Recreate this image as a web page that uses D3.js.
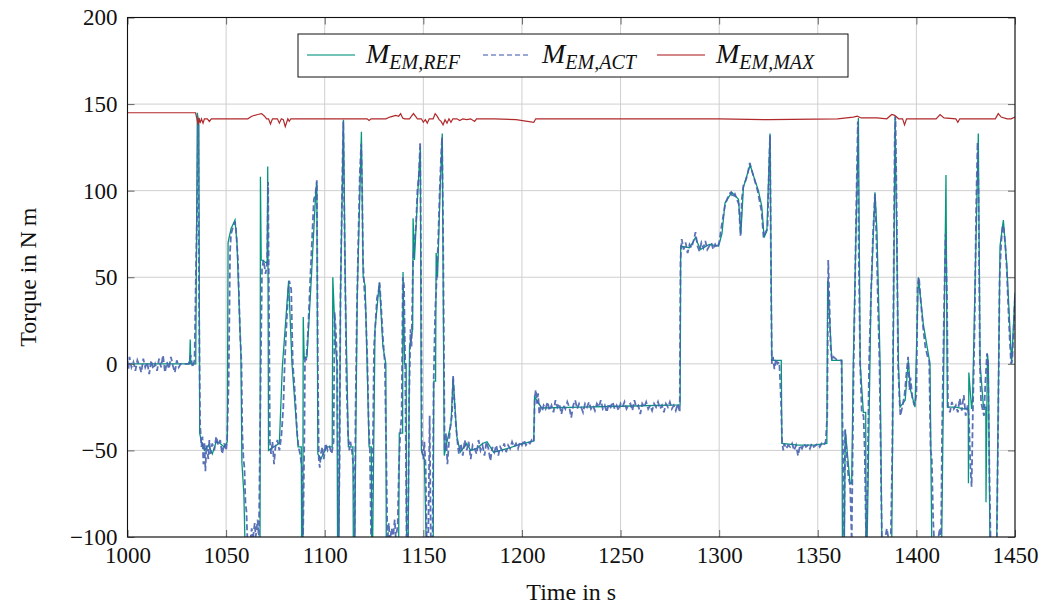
<!DOCTYPE html>
<html>
<head>
<meta charset="utf-8">
<script src="https://cdn.jsdelivr.net/npm/d3@7"></script>
<style>
  body { margin: 0; background: #fff; }
  svg { font-family: "Liberation Serif", "DejaVu Serif", serif; }
</style>
</head>
<body>
<div id="chart"></div>
<script>
// data, [time s, torque N m]
const refData = [
  [1000,0],[1031.5,0],[1031.8,14],[1032.1,0],[1034.6,0],[1035.4,145],[1036.2,138],[1036.6,-40],
  [1037.5,-45],[1039,-50],[1041,-47],[1043,-52],[1045,-45],[1047,-46],[1049,-48],[1050.6,-45],
  [1051,70],[1052.5,78],[1054.5,83],[1055.5,70],[1057.5,5],[1058,-57],[1059,-75],[1059.6,-105],
  [1067.2,-105],[1067.4,108],[1067.8,60],[1070.8,58],[1071.1,114],[1071.5,-50],[1074,-48],[1077,-46],
  [1078.5,-2],[1081.7,48],[1083.4,0],[1086.5,-48],[1088.1,-48],[1088.3,-105],[1088.9,-105],[1089.1,27],
  [1089.6,3],[1091,4],[1093,45],[1095.5,100],[1096,105],[1096.5,-52],[1098,-55],[1101,-48],
  [1103.8,-48],[1104.1,50],[1105.5,10],[1106.2,0],[1106.5,-105],[1107.2,-105],[1108,40],[1109.5,141],
  [1110.5,40],[1111.2,0],[1112,-48],[1114.3,-48],[1114.5,-105],[1115.2,-105],[1116.5,40],[1118.6,134],
  [1119.5,50],[1120.5,45],[1121.5,0],[1122.5,-48],[1123.6,-48],[1123.8,-105],[1124.3,-105],[1125.5,20],
  [1127.7,47],[1129.5,10],[1131,0],[1131.2,-105],[1137.5,-105],[1137.8,-40],[1139.5,-40],[1139.7,53],
  [1140.5,0],[1141.3,0],[1141.5,-105],[1142.3,-105],[1143,10],[1144.6,20],[1144.8,84],[1145.5,60],
  [1147,95],[1148.5,125],[1149,-50],[1150.5,-55],[1151.5,-105],[1155,-105],[1155.3,-10],[1156.2,-10],
  [1156.5,64],[1157.2,50],[1158.5,100],[1159.6,133],[1160.6,-53],[1162,-45],[1164,-35],[1165.1,-8],
  [1167,-42],[1168.7,-51],[1172,-46],[1174,-50],[1177,-49],[1180,-46],[1182.3,-45],[1185.6,-51],
  [1192.4,-49],[1199,-46.5],[1206,-44.5],[1206.4,-19],[1208,-22],[1210,-25.5],[1230,-25],[1250,-24.5],
  [1280.2,-23.7],[1280.5,68],[1285,67],[1288,73],[1290.4,66],[1295,69],[1299.7,68],[1301.4,75],
  [1303,93],[1306.4,99],[1309.8,95],[1311,75],[1312.3,102],[1315.7,115],[1317,110],[1319.9,100],
  [1321.6,91],[1322.8,73],[1324.2,77],[1325.8,133],[1326.7,2],[1331.5,2],[1331.8,-46],[1340,-47],
  [1348,-47],[1354.6,-46],[1355,48],[1357.1,2],[1362.2,2],[1362.5,-105],[1363.5,-105],[1363.9,-38],
  [1366.4,-69],[1367.2,-69],[1368,0],[1370.6,142],[1371.5,0],[1373.1,-28],[1374.3,-28],[1374.5,-105],
  [1375,-105],[1377,40],[1379,99],[1380,77],[1381.6,0],[1382.5,-105],[1387.5,-105],[1389.2,143],
  [1390.9,0],[1391.7,-25],[1394.3,-21],[1395.9,2],[1397,-15],[1399.3,-25],[1401,50],[1403.5,23],
  [1406.9,0],[1407.8,-105],[1412.8,-105],[1415,109],[1415.7,-25],[1420,-25],[1424,-26],[1426.3,-26],
  [1426.4,-69],[1426.6,-5],[1428,-26],[1428.5,-20],[1431.4,133],[1432.3,0],[1434,-25],[1435.2,-25],
  [1435.3,-80],[1436,6],[1436.5,0],[1437.3,-105],[1440.7,-105],[1442.4,68],[1444.1,83],[1445.8,58],
  [1448.3,0],[1450,41]
];

const actData = [
  [1000,2],[1000.5,-3],[1001,4],[1002,-2],[1003,1],[1004,-4],[1005,2],[1006,-1],[1007,-5],[1008,3],
  [1009,-2],[1010,1],[1011,-6],[1012,2],[1013,-3],[1014,0],[1015,-4],[1016,3],[1017,-2],[1018,5],
  [1019,-5],[1020,1],[1021,-3],[1022,4],[1023,-1],[1024,-5],[1025,2],[1026,-2],[1027,0],[1031,0],
  [1032,5],[1033,-2],[1034,2],[1034.8,60],[1035.5,100],[1035.8,142],[1036.3,30],[1036.8,-35],
  [1037.5,-48],[1038,-42],[1038.5,-58],[1039,-45],[1039.5,-62],[1040,-47],[1041,-55],[1041.5,-44],
  [1042,-52],[1043,-46],[1044,-50],[1045,-42],[1046,-47],[1047,-44],[1048,-52],[1049,-46],[1050,-50],
  [1050.5,-44],[1051.3,-10],[1052,65],[1052.5,75],[1053.5,79],[1054.5,82],[1055,78],[1056,60],
  [1057,20],[1057.8,0],[1058.2,-40],[1058.8,-55],[1059.3,-60],[1059.8,-80],[1060.3,-85],[1060.8,-102],
  [1062,-105],[1063,-95],[1063.5,-102],[1064.5,-92],[1065,-100],[1066,-90],[1066.6,-102],[1067.6,0],
  [1068.2,55],[1069,60],[1070,52],[1070.8,58],[1071.3,105],[1071.7,40],[1072.2,-45],[1072.8,-52],
  [1073.5,-45],[1074.3,-58],[1075,-48],[1076,-44],[1077,-50],[1078,-42],[1079,-25],[1079.7,0],
  [1080.5,20],[1081.5,42],[1082,48],[1083,43],[1083.8,0],[1084.5,-10],[1085.3,-25],[1086,-40],
  [1086.7,-48],[1087.5,-52],[1088.5,-60],[1089,-102],[1089.7,-40],[1090,5],[1090.6,2],[1091,8],
  [1091.6,20],[1092.5,45],[1093.5,70],[1094.5,95],[1095.3,98],[1096,106],[1096.5,0],[1097,-55],
  [1097.5,-60],[1098,-52],[1098.8,-48],[1099.5,-55],[1100.5,-46],[1101.5,-50],[1102.5,-48],
  [1103.5,-52],[1104.5,-45],[1105,30],[1105.6,20],[1106.3,0],[1107,-102],[1107.5,-60],[1108,40],
  [1108.8,100],[1109.4,140],[1110,80],[1110.6,30],[1111,-10],[1111.8,-40],[1112.5,-50],[1113,-45],
  [1113.8,-50],[1114.6,-60],[1115.2,-102],[1115.6,-30],[1116.3,30],[1117,70],[1117.8,110],
  [1118.5,127],[1119,100],[1119.4,60],[1120,45],[1120.8,30],[1121.6,2],[1122.3,-35],[1122.9,-50],
  [1123.5,-102],[1124.3,-60],[1125,10],[1125.8,25],[1126.5,38],[1127.3,42],[1127.8,47],[1128.5,35],
  [1129.5,15],[1130.5,0],[1131.3,-60],[1131.8,-102],[1132.5,-92],[1133,-102],[1134,-95],
  [1134.5,-102],[1135.5,-90],[1136,-100],[1137,-94],[1137.6,-60],[1138.3,-40],[1139,-30],
  [1139.6,50],[1140.2,45],[1140.8,0],[1141.5,-100],[1142.2,-102],[1142.8,-20],[1143.5,20],
  [1144,10],[1144.8,60],[1145.5,70],[1146.3,80],[1147,100],[1147.8,110],[1148.4,128],[1148.8,60],
  [1149.3,-50],[1150,-55],[1150.5,-45],[1151.2,-60],[1151.7,-102],[1152.5,-102],[1153.2,-30],
  [1153.8,-102],[1154.7,-102],[1155.2,-12],[1156,30],[1156.8,50],[1157.5,70],[1158.3,100],
  [1159,120],[1159.5,131],[1160,80],[1160.8,-50],[1161.5,-40],[1162.2,-58],[1163,-45],[1163.8,-35],
  [1164.5,-30],[1165.1,-7],[1165.8,-22],[1166.5,-35],[1167.2,-44],[1168,-52],[1169,-46],[1170,-53],
  [1171,-44],[1172,-50],[1173,-45],[1174,-55],[1175,-47],[1176,-49],[1177,-52],[1178,-44],[1179,-50],
  [1180,-47],[1181,-53],[1182,-45],[1183,-49],[1184,-56],[1185,-48],[1186,-51],[1187,-47],[1188,-53],
  [1189,-48],[1190,-50],[1191,-46],[1192,-51],[1193,-47],[1194,-49],[1195,-45],[1196,-48],[1197,-46],
  [1198,-49],[1199,-45],[1200,-47],[1201,-44],[1202,-47],[1203,-45],[1204,-46],[1205,-44],[1206,-45],
  [1206.5,-20],[1207,-15],[1207.6,-23],[1208.2,-17],[1208.8,-29],[1209.5,-25],[1210.3,-27],[1211,-24],
  [1212,-26],[1213,-22],[1214,-27],[1215,-24],[1216,-28],[1217,-21],[1218,-25],[1219,-23],[1220,-29],
  [1221,-24],[1222,-26],[1223,-22],[1224,-25],[1225,-31],[1226,-24],[1227,-21],[1228,-26],[1229,-23],
  [1230,-25],[1231,-28],[1232,-23],[1233,-25],[1234,-22],[1235,-26],[1236,-24],[1237,-27],[1238,-23],
  [1239,-25],[1240,-21],[1241,-26],[1242,-24],[1243,-28],[1244,-23],[1245,-25],[1246,-22],[1247,-26],
  [1248,-24],[1249,-27],[1250,-23],[1251,-25],[1252,-22],[1253,-26],[1254,-24],[1255,-23],[1256,-27],
  [1257,-21],[1258,-25],[1259,-24],[1260,-29],[1261,-23],[1262,-25],[1263,-22],[1264,-26],[1265,-24],
  [1266,-27],[1267,-23],[1268,-25],[1269,-22],[1270,-26],[1271,-24],[1272,-28],[1273,-23],[1274,-25],
  [1275,-22],[1276,-26],[1277,-24],[1278,-27],[1279,-23],[1280,-28],[1280.4,60],[1281,72],[1282,66],
  [1283,70],[1284,64],[1285,69],[1286,67],[1287,71],[1288,76],[1289,68],[1290,65],[1291,70],[1292,67],
  [1293,71],[1294,66],[1295,68],[1296,70],[1297,66],[1298,69],[1299,67],[1300,70],[1301,78],[1302,85],
  [1303,92],[1304,95],[1305,98],[1306,99],[1307,96],[1308,98],[1309,95],[1310,92],[1310.8,74],
  [1311.5,95],[1312.3,103],[1313.5,106],[1314.5,110],[1315.5,116],[1316.5,112],[1317.5,108],
  [1318.5,104],[1319.5,100],[1320.5,94],[1321.5,88],[1322.5,73],[1323.5,76],[1324.5,78],[1325.2,110],
  [1325.8,132],[1326.3,50],[1326.7,0],[1327.3,4],[1328,-3],[1328.8,3],[1329.5,0],[1330.5,1],
  [1331.3,-20],[1331.9,-45],[1332.5,-50],[1333,-46],[1334,-49],[1335,-47],[1336,-48],[1337,-46],
  [1338,-50],[1339,-47],[1340,-53],[1341,-47],[1342,-49],[1343,-46],[1344,-48],[1345,-47],[1346,-49],
  [1347,-46],[1348,-48],[1349,-47],[1350,-46],[1351,-48],[1352,-46],[1353,-47],[1354,-45],
  [1354.8,-30],[1355.3,60],[1355.8,40],[1356.5,10],[1357.2,2],[1358,4],[1360,2],[1362,2],
  [1362.8,-50],[1363.3,-102],[1363.9,-38],[1364.6,-50],[1365.5,-65],[1366.4,-70],[1367.2,-102],
  [1367.6,-60],[1368.2,0],[1368.8,40],[1369.5,90],[1370.3,140],[1370.8,60],[1371.5,0],[1372.3,-28],
  [1373.2,-30],[1373.8,-50],[1374.5,-102],[1375.2,-70],[1376,0],[1377,40],[1378,75],[1379,98],
  [1379.8,70],[1380.5,35],[1381.3,0],[1381.9,-50],[1382.5,-102],[1384,-102],[1385,-95],[1386,-102],
  [1387,-102],[1387.8,-50],[1388.4,40],[1389,130],[1389.4,143],[1390,90],[1390.7,0],[1391.4,-20],
  [1391.9,-30],[1393,-24],[1394,-18],[1395,-5],[1395.8,4],[1396.5,-15],[1397,-8],[1398,-20],
  [1399,-24],[1400,-18],[1400.6,45],[1401.3,50],[1402.3,35],[1403.5,20],[1404.5,10],[1405.5,5],
  [1406.5,2],[1407.2,-50],[1407.8,-54],[1408.5,-90],[1409,-102],[1411,-102],[1411.8,-95],
  [1412.5,-102],[1413,-40],[1414,30],[1414.8,75],[1415.5,40],[1416,-24],[1417,-28],[1418,-22],
  [1419,-26],[1420,-24],[1421,-28],[1422,-20],[1423,-27],[1424,-18],[1425,-30],[1426,-24],
  [1426.6,-30],[1427.4,-60],[1428,-71],[1428.6,-30],[1429.5,20],[1430.3,90],[1431,128],[1431.5,100],
  [1432.2,0],[1432.8,-22],[1433.5,-26],[1434.3,-30],[1435,-10],[1435.8,6],[1436.3,0],[1437,-60],
  [1437.6,-102],[1440.8,-102],[1441.5,-30],[1442.2,50],[1443,70],[1443.7,80],[1444.3,78],[1445,70],
  [1445.8,55],[1446.5,35],[1447.3,15],[1448,0],[1448.6,2],[1449.3,20],[1450,40]
];

const maxData = [
  [1000,145],[1034.5,145],[1035.3,141],[1035.8,138],[1036.3,142],[1036.8,139],[1037.5,141.5],
  [1038.3,139],[1039,141.5],[1040.5,141.5],[1041.5,140],[1042.5,141.5],[1061,141.5],[1063,143],
  [1066,144],[1068,144.5],[1069.5,143],[1070.5,141.5],[1071.5,141.5],[1072.5,138.5],[1073.5,141.5],
  [1076,141.5],[1077,139],[1078,141.5],[1079,141],[1080,137],[1081.3,141.5],[1082,140],
  [1082.8,141.5],[1121.5,141.5],[1122.5,140.5],[1123.5,141.5],[1131,141.5],[1133,142.5],
  [1136,143.5],[1137.5,143],[1138.5,144.5],[1139.5,142],[1140.5,141.5],[1143,141.5],[1144,143],
  [1145,144.5],[1146,143],[1147,141.5],[1149,141.5],[1150,139.5],[1151,141],[1152,139],[1153,141.5],
  [1155,141.5],[1156,144.5],[1157,143],[1158,141],[1159,140],[1160,138],[1161,141],[1162,139],
  [1163,141.5],[1164,139.5],[1165,141.5],[1167,141.5],[1168.5,140.5],[1170,141.5],[1172,141],
  [1174,141.5],[1176,140],[1177,141.5],[1186,141.5],[1197,141],[1206,139.5],[1207,141.5],
  [1300,141.5],[1325,141],[1360,141.5],[1368,142.5],[1370,143],[1372,142],[1380,142],[1385,141.5],
  [1387.5,144],[1389,143.5],[1391,141.5],[1393,141.5],[1394,138],[1395,141.5],[1410,141.5],
  [1412,144],[1414,142],[1420,141.5],[1421,139.5],[1422,141.5],[1440,141.5],[1441.5,144.5],
  [1443,142.5],[1446,141.5],[1448,141.5],[1450,142.5]
];

const xTicks = [1000, 1050, 1100, 1150, 1200, 1250, 1300, 1350, 1400, 1450];
const yTicks = [-100, -50, 0, 50, 100, 150, 200];

const width = 1056, height = 604;
const margin = { top: 17.5, right: 41, bottom: 67, left: 127.5 };
const w = width - margin.left - margin.right;
const h = height - margin.top - margin.bottom;

const svg = d3.select("#chart").append("svg")
  .attr("width", width).attr("height", height);

const x = d3.scaleLinear().domain([1000, 1450]).range([0, w]);
const y = d3.scaleLinear().domain([-100, 200]).range([h, 0]);

const g = svg.append("g").attr("transform", `translate(${margin.left},${margin.top})`);

g.append("clipPath").attr("id", "clip")
  .append("rect").attr("width", w).attr("height", h);

// grid
g.append("g").selectAll("line").data(xTicks).join("line")
  .attr("x1", d => x(d)).attr("x2", d => x(d)).attr("y1", 0).attr("y2", h)
  .attr("stroke", "#cfcfcf").attr("stroke-width", 1);
g.append("g").selectAll("line").data(yTicks).join("line")
  .attr("y1", d => y(d)).attr("y2", d => y(d)).attr("x1", 0).attr("x2", w)
  .attr("stroke", "#cfcfcf").attr("stroke-width", 1);

const line = d3.line().x(d => x(d[0])).y(d => y(d[1]));
const plot = g.append("g").attr("clip-path", "url(#clip)");

const colRef = "#05967e", colAct = "#4862b0", colMax = "#b0292b";

plot.append("path").datum(refData).attr("d", line)
  .attr("fill", "none").attr("stroke", colRef).attr("stroke-width", 1.3);
plot.append("path").datum(actData).attr("d", line)
  .attr("fill", "none").attr("stroke", colAct).attr("stroke-width", 1.8)
  .attr("stroke-dasharray", "6,3").attr("stroke-opacity", 0.9);
plot.append("path").datum(maxData).attr("d", line)
  .attr("fill", "none").attr("stroke", colMax).attr("stroke-width", 1.2);

// axes with inward ticks on all sides
const tickStyle = a => {
  a.select(".domain").remove();
  a.selectAll(".tick line").attr("stroke", "#666").attr("stroke-width", 1);
  a.selectAll(".tick text").attr("fill", "#111")
    .style("font-size", "23px").style("font-family", "Liberation Serif");
};
g.append("g").attr("transform", `translate(0,${h})`)
  .call(d3.axisBottom(x).tickValues(xTicks).tickFormat(d3.format("d")).tickSize(-7).tickPadding(10))
  .call(tickStyle);
g.append("g")
  .call(d3.axisTop(x).tickValues(xTicks).tickFormat("").tickSize(-7))
  .call(tickStyle);
g.append("g")
  .call(d3.axisLeft(y).tickValues(yTicks).tickFormat(d => d < 0 ? "\u2212" + Math.abs(d) : d).tickSize(-7).tickPadding(10))
  .call(tickStyle);
g.append("g").attr("transform", `translate(${w},0)`)
  .call(d3.axisRight(y).tickValues(yTicks).tickFormat("").tickSize(-7))
  .call(tickStyle);

g.append("rect").attr("width", w).attr("height", h)
  .attr("fill", "none").attr("stroke", "#111").attr("stroke-width", 1.1);

// axis labels
svg.append("text").attr("x", margin.left + w / 2).attr("y", 600)
  .attr("text-anchor", "middle").style("font-size", "24px").attr("fill", "#111")
  .text("Time in s");
svg.append("text")
  .attr("transform", `translate(36,${margin.top + h / 2}) rotate(-90)`)
  .attr("text-anchor", "middle").style("font-size", "24px").attr("fill", "#111")
  .text("Torque in N\u2009m");

// legend
const legendItems = [
  { sub: "EM,REF", color: colRef, dash: null, x: 307 },
  { sub: "EM,ACT", color: colAct, dash: "5,3", x: 483 },
  { sub: "EM,MAX", color: colMax, dash: null, x: 657 }
];
const leg = svg.append("g");
leg.append("rect").attr("x", 298).attr("y", 34).attr("width", 550).attr("height", 43)
  .attr("fill", "#fff").attr("stroke", "#111").attr("stroke-width", 1);
legendItems.forEach(it => {
  leg.append("line").attr("x1", it.x).attr("x2", it.x + 48).attr("y1", 55).attr("y2", 55)
    .attr("stroke", it.color).attr("stroke-width", 1.3).attr("stroke-dasharray", it.dash)
    .attr("stroke-opacity", 0.75);
  const t = leg.append("text").attr("x", it.x + 59).attr("y", 63)
    .style("font-size", "28px").style("font-style", "italic").attr("fill", "#111");
  t.append("tspan").text("M");
  t.append("tspan").attr("dy", 6).style("font-size", "20px").text(it.sub);
});
</script>
</body>
</html>
